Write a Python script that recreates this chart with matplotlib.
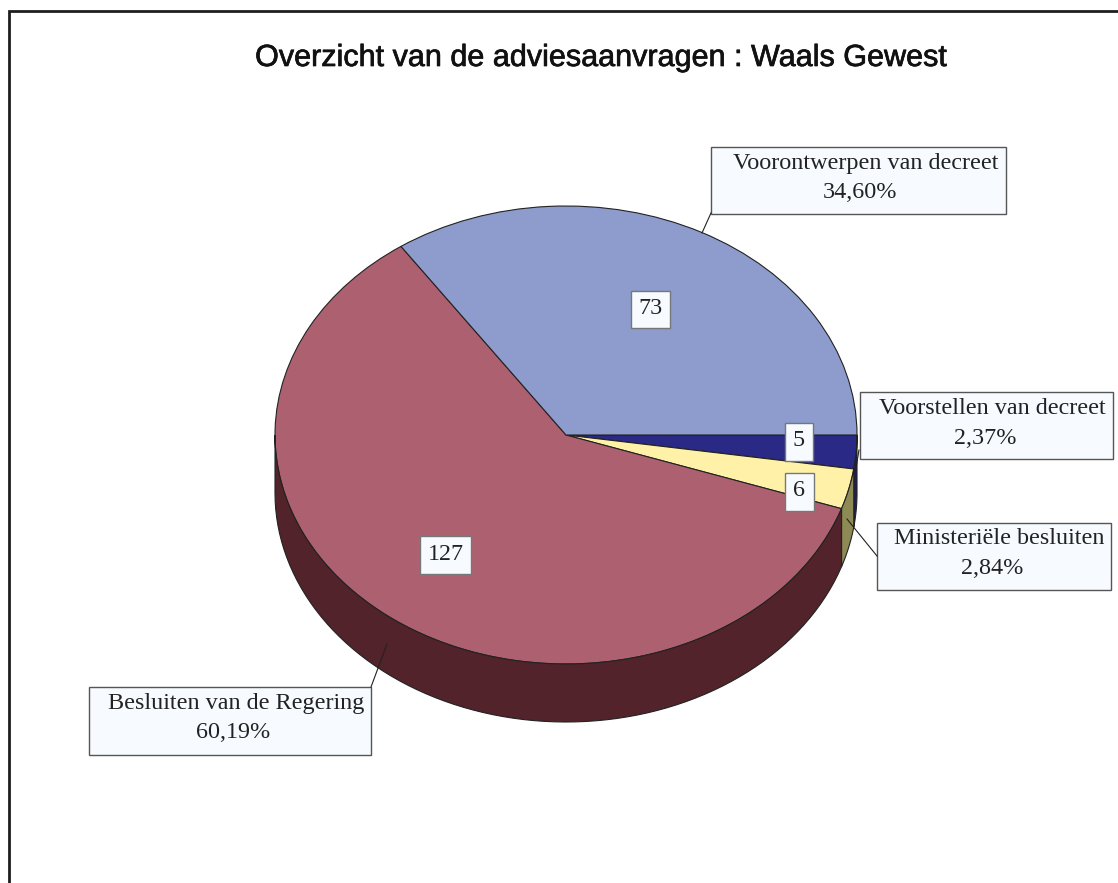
import numpy as np
import matplotlib
matplotlib.use("Agg")
import matplotlib.pyplot as plt
import matplotlib.patheffects as pe
from matplotlib.patches import Rectangle, Polygon

title = "Overzicht van de adviesaanvragen : Waals Gewest"
labels = ["Voorstellen van decreet", "Ministeriële besluiten", "Besluiten van de Regering", "Voorontwerpen van decreet"]
counts = [5, 6, 127, 73]
percents = ["2,37%", "2,84%", "60,19%", "34,60%"]
top_colors = ["#2A2A86", "#FFF2A8", "#AD6170", "#8E9CCD"]
wall_colors = ["#1E1E60", "#8E8A55", "#52232B", "#474E66"]

W, H = 1118, 883
cx, cy, rx, ry, depth = 566, 435, 291, 229, 58

fig = plt.figure(figsize=(W / 100, H / 100), dpi=100)

# pie axes: unit circle gets stretched to the ellipse
pie_ax = fig.add_axes([(cx - rx) / W, 1 - (cy + ry + depth) / H, 2 * rx / W, (2 * ry + depth) / H])
pie_ax.pie(counts, colors=top_colors, startangle=0, counterclock=False, radius=1,
           wedgeprops=dict(edgecolor="#222222", linewidth=0.8, clip_on=False), frame=True)
pie_ax.set_aspect("auto")
d = depth / ry
pie_ax.set_xlim(-1, 1)
pie_ax.set_ylim(-1 - d, 1)
pie_ax.axis("off")

# side wall of the front half, per slice
edges = np.cumsum([0] + counts) / sum(counts) * 360
for i in range(len(counts)):
    a, b = edges[i], min(edges[i + 1], 180)
    if a >= 180:
        continue
    t = np.radians(np.linspace(a, b, 80))
    x, y = np.cos(t), -np.sin(t)
    pts = np.r_[np.c_[x, y], np.c_[x, y - d][::-1]]
    pie_ax.add_patch(Polygon(pts, closed=True, facecolor=wall_colors[i], edgecolor="#222222",
                             linewidth=0.8, clip_on=False))

# overlay in pixel coordinates
ax = fig.add_axes([0, 0, 1, 1])
ax.set_xlim(0, W)
ax.set_ylim(H, 0)
ax.axis("off")
ax.patch.set_alpha(0)

ax.plot([8.8, 8.8, W], [H, 10.8, 10.8], color="#1E1E1E", lw=2.0, solid_joinstyle="miter")
ax.text(600, 58, title, family="Liberation Sans", fontsize=22, ha="center", va="center", color="#111111",
        path_effects=[pe.withStroke(linewidth=0.5, foreground="#111111")])

leaders = [((859, 450), (855, 474)), ((877, 556), (847, 519)), ((371, 687), (387, 644)), ((711, 213), (702, 233))]
for p, q in leaders:
    ax.plot([p[0], q[0]], [p[1], q[1]], color="#222222", lw=0.8)

# x0, x1, y0, y1 per label box
boxes = [(860, 1113, 392, 459), (877, 1111, 523, 590), (89, 371, 687, 755), (711, 1006, 147, 214)]
line1_x = [992, 999, 236, 866]
line2_x = [985, 992, 233, 860]
for i, (x0, x1, y0, y1) in enumerate(boxes):
    ax.add_patch(Rectangle((x0, y0), x1 - x0, y1 - y0, facecolor="#F7FBFF", edgecolor="#555555", lw=1.0))
    ax.text(line1_x[i], y0 + 16, labels[i], family="Liberation Serif", fontsize=17.4, ha="center", va="center", color="#222222")
    ax.text(line2_x[i], y0 + 46, percents[i], family="Liberation Serif", fontsize=17.4, ha="center", va="center", color="#222222")

val_boxes = [(785, 813, 423, 461), (785, 814, 473, 511), (420, 471, 536, 574), (631, 670, 291, 328)]
for i, (x0, x1, y0, y1) in enumerate(val_boxes):
    ax.add_patch(Rectangle((x0, y0), x1 - x0, y1 - y0, facecolor="#F7FBFF", edgecolor="#777777", lw=1.0))
    ax.text((x0 + x1) / 2, (y0 + y1) / 2 - 1, str(counts[i]), family="Liberation Serif", fontsize=17.4,
            ha="center", va="center", color="#222222")

fig.savefig("out.png", dpi=100)
